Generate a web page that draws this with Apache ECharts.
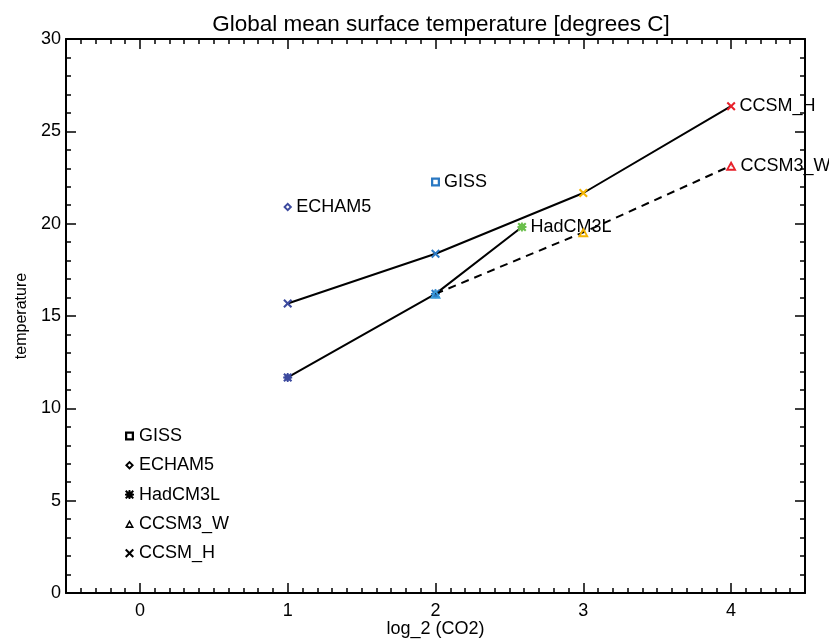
<!DOCTYPE html>
<html><head><meta charset="utf-8">
<script src="https://cdn.jsdelivr.net/npm/echarts@6/dist/echarts.min.js"></script>
<style>html,body{margin:0;padding:0;background:#fff}#c{width:829px;height:640px}</style>
</head><body><div id="c"></div>
<script>
// Data
const xTicks = [0, 1, 2, 3, 4];
const yTicks = [0, 5, 10, 15, 20, 25, 30];
const ccsmH_x = [1, 2, 3, 4];
const ccsmH_y = [15.68, 18.37, 21.66, 26.36];
const ccsm3W_x = [2, 3, 4];
const ccsm3W_y = [16.2, 19.53, 23.14];
const hadcm3l_x = [1, 2, 2.585];
const hadcm3l_y = [11.67, 16.2, 19.82];
const giss_x = [2];
const giss_y = [22.26];
const echam5_x = [1];
const echam5_y = [20.9];
const models = ['GISS', 'ECHAM5', 'HadCM3L', 'CCSM3_W', 'CCSM_H'];

const C1 = '#3c4a9e', C2 = '#2a78c2', C2t = '#3a9ad8', CG = '#6abf4b', C3 = '#f4b400', C4 = '#e8202a';
function colorFor(x, tri) {
  if (x === 1) return C1;
  if (x === 2) return tri ? C2t : C2;
  if (x === 3) return C3;
  if (x === 4) return C4;
  return CG;
}
const X_PATH = 'path://M0,1.6 L1.6,0 L5,3.4 L8.4,0 L10,1.6 L6.6,5 L10,8.4 L8.4,10 L5,6.6 L1.6,10 L0,8.4 L3.4,5 Z';
const AST_PATH = 'path://M0,1.6 L1.6,0 L5,3.4 L8.4,0 L10,1.6 L6.6,5 L10,8.4 L8.4,10 L5,6.6 L1.6,10 L0,8.4 L3.4,5 Z M4,0 L6,0 L6,10 L4,10 Z M0,4 L10,4 L10,6 L0,6 Z M1.5,1.5 L8.5,1.5 L8.5,8.5 L1.5,8.5 Z';
const SQ_PATH = 'path://M0,0 L10,0 L10,10 L0,10 Z M2.5,2.5 L2.5,7.5 L7.5,7.5 L7.5,2.5 Z';
const DI_PATH = 'path://M5,0 L10,5 L5,10 L0,5 Z M5,3 L3,5 L5,7 L7,5 Z';
const TR_PATH = 'path://M5,0 L10,9 L0,9 Z M5,3.6 L2.8,7.2 L7.2,7.2 Z';

function pts(xs, ys, tri, labelName) {
  return xs.map((x, i) => {
    const d = { value: [x, ys[i]], itemStyle: { color: colorFor(x, tri), opacity: 1 } };
    if (labelName && i === xs.length - 1) {
      d.label = { show: true, formatter: labelName, position: 'right', distance: 4,
        color: '#000', fontSize: 18, fontFamily: 'Liberation Sans' };
    }
    return d;
  });
}

const font = 'Liberation Sans';
const chart = echarts.init(document.getElementById('c'), null, { renderer: 'canvas' });
const tickStyle = { color: '#000', width: 1.5 };
const option = {
  animation: false,
  backgroundColor: '#fff',
  title: { text: 'Global mean surface temperature [degrees C]', left: 436, textAlign: 'center', top: 8,
    textStyle: { fontFamily: font, fontSize: 22.5, fontWeight: 'normal', color: '#000' } },
  grid: { left: 66, right: 24, top: 39, bottom: 47, containLabel: false, outerBoundsMode: 'none' },
  legend: {
    orient: 'vertical', left: 120, top: 421, itemWidth: 9, itemHeight: 9, itemGap: 9.3,
    textStyle: { fontFamily: font, fontSize: 18, color: '#000', lineHeight: 20 },
    selectedMode: false,
    data: [
      { name: 'GISS', icon: SQ_PATH, itemStyle: { color: '#000' } },
      { name: 'ECHAM5', icon: DI_PATH, itemStyle: { color: '#000' } },
      { name: 'HadCM3L', icon: AST_PATH, itemStyle: { color: '#000' } },
      { name: 'CCSM3_W', icon: TR_PATH, itemStyle: { color: '#000' } },
      { name: 'CCSM_H', icon: X_PATH, itemStyle: { color: '#000' } }
    ]
  },
  xAxis: [
    { type: 'value', position: 'bottom', min: -0.5, max: 4.5, interval: 0.5,
      axisLine: { show: true, onZero: false, lineStyle: { color: '#000', width: 2 } },
      axisTick: { show: true, inside: true, length: 5, lineStyle: tickStyle },
      minorTick: { show: true, splitNumber: 5, length: 5, lineStyle: tickStyle },
      axisLabel: { show: false }, splitLine: { show: false },
      name: 'log_2 (CO2)', nameLocation: 'middle', nameGap: 27,
      nameTextStyle: { fontFamily: font, fontSize: 18, color: '#000' } },
    { type: 'value', position: 'bottom', min: -0.5, max: 4.5, minInterval: 1, maxInterval: 1,
      axisLine: { show: false, onZero: false },
      axisTick: { show: true, inside: true, length: 10, lineStyle: tickStyle },
      axisLabel: { show: true, margin: 9, fontFamily: font, fontSize: 18, color: '#000',
        formatter: v => (xTicks.indexOf(v) >= 0 ? String(v) : '') },
      splitLine: { show: false } },
    { type: 'value', position: 'top', min: -0.5, max: 4.5, interval: 0.5,
      axisLine: { show: true, onZero: false, lineStyle: { color: '#000', width: 2 } },
      axisTick: { show: true, inside: true, length: 5, lineStyle: tickStyle },
      minorTick: { show: true, splitNumber: 5, length: 5, lineStyle: tickStyle },
      axisLabel: { show: false }, splitLine: { show: false } },
    { type: 'value', position: 'top', min: -0.5, max: 4.5, minInterval: 1, maxInterval: 1,
      axisLine: { show: false, onZero: false },
      axisTick: { show: true, inside: true, length: 10, lineStyle: tickStyle },
      axisLabel: { show: false }, splitLine: { show: false } }
  ],
  yAxis: [
    { type: 'value', position: 'left', min: 0, max: 30, interval: 5,
      axisLine: { show: true, onZero: false, lineStyle: { color: '#000', width: 2 } },
      axisTick: { show: true, inside: true, length: 10, lineStyle: tickStyle },
      minorTick: { show: true, splitNumber: 5, length: 5, lineStyle: tickStyle },
      axisLabel: { margin: 5, fontFamily: font, fontSize: 18, color: '#000',
        formatter: v => (yTicks.indexOf(v) >= 0 ? String(v) : '') },
      splitLine: { show: false },
      name: 'temperature', nameLocation: 'middle', nameGap: 35,
      nameTextStyle: { fontFamily: font, fontSize: 16, color: '#000' } },
    { type: 'value', position: 'right', min: 0, max: 30, interval: 5,
      axisLine: { show: true, onZero: false, lineStyle: { color: '#000', width: 2 } },
      axisTick: { show: true, inside: true, length: 10, lineStyle: tickStyle },
      minorTick: { show: true, splitNumber: 5, length: 5, lineStyle: tickStyle },
      axisLabel: { show: false }, splitLine: { show: false } }
  ],
  series: [
    { name: 'CCSM_H', type: 'line', symbol: X_PATH, symbolSize: 9,
      lineStyle: { color: '#000', width: 2 }, itemStyle: { color: '#000', opacity: 1 },
      data: pts(ccsmH_x, ccsmH_y, false, 'CCSM_H'), z: 3 },
    { name: 'HadCM3L', type: 'line', symbol: AST_PATH, symbolSize: 9,
      lineStyle: { color: '#000', width: 2 }, itemStyle: { color: '#000', opacity: 1 },
      data: pts(hadcm3l_x, hadcm3l_y, false, 'HadCM3L'), z: 3 },
    { name: 'CCSM3_W', type: 'line', symbol: TR_PATH, symbolSize: [11, 10],
      lineStyle: { color: '#000', width: 2, type: [8, 6] }, itemStyle: { color: '#000', opacity: 1 },
      data: pts(ccsm3W_x, ccsm3W_y, true, 'CCSM3_W'), z: 4 },
    { name: 'GISS', type: 'scatter', symbol: SQ_PATH, symbolSize: 9,
      itemStyle: { color: '#000', opacity: 1 },
      data: pts(giss_x, giss_y, false, 'GISS'), z: 4 },
    { name: 'ECHAM5', type: 'scatter', symbol: DI_PATH, symbolSize: 9,
      itemStyle: { color: '#000', opacity: 1 },
      data: pts(echam5_x, echam5_y, false, 'ECHAM5'), z: 4 }
  ]
};
chart.setOption(option);
</script></body></html>
